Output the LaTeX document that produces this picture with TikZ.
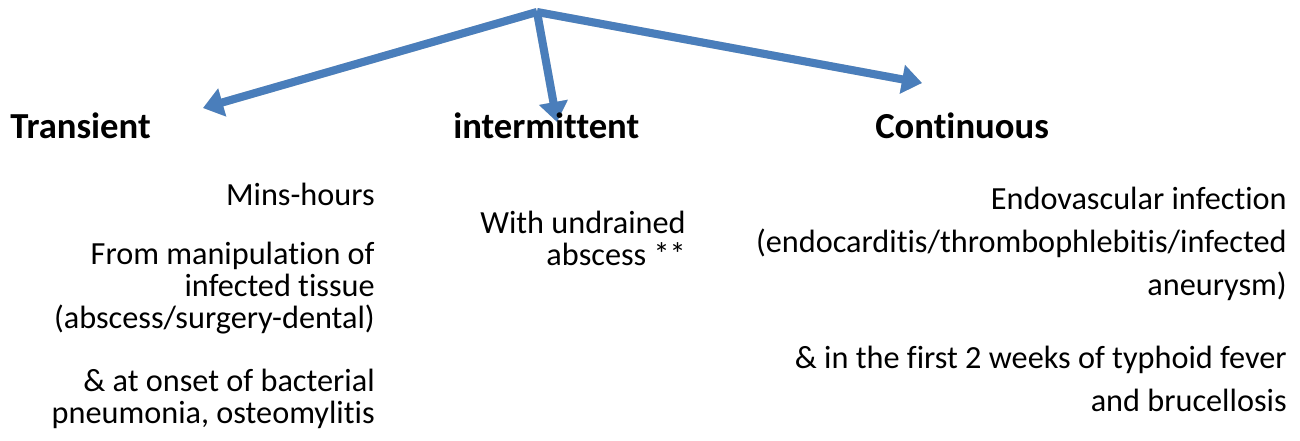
\documentclass[tikz,border=0pt]{standalone}
\usepackage{fontspec}
\setmainfont{Carlito}[RawFeature=-liga]
\usepackage{xcolor}
\usetikzlibrary{arrows.meta,positioning}

\definecolor{flowblue}{RGB}{74,126,187}
\tikzset{
  flow/.style={line width=6pt, flowblue, -{Triangle[length=15pt,width=21pt]}},
  flowshade/.style={line width=6pt, black!18, -{Triangle[length=15pt,width=21pt]}, shift={(2,3)}},
  head/.style={font=\fontsize{27.5}{33}\selectfont\bfseries, inner sep=0pt, anchor=base west},
  body/.style={font=\fontsize{24.2}{24}\selectfont, inner sep=0pt, align=right, anchor=base east},
  bodywide/.style={body, font=\fontsize{24.2}{32.25}\selectfont}
}

\begin{document}
\begin{tikzpicture}[x=0.75pt, y=-0.75pt]
    \useasboundingbox (0,0) rectangle (1300,441);

    % Branch points
    \coordinate (top) at (537,12);
    \coordinate (transTip) at (203,108);
    \coordinate (interTip) at (557,122);
    \coordinate (contTip) at (922,83);

    % Shadows of the arrows
    \draw[flowshade] (top) -- (transTip);
    \draw[flowshade] (top) -- (interTip);
    \draw[flowshade] (top) -- (contTip);

    % Arrows
    \draw[flow] (top) -- (transTip);
    \draw[flow] (top) -- (interTip);
    \draw[flow] (top) -- (contTip);

    % Headings
    \node[head] (trans) at (10,139) {Transient};
    \node[head] (inter) at (453,139) {intermittent};
    \node[head] (cont) at (875,139) {Continuous};

    % Transient
    \node[body] (transA) at (375,206) {Mins-hours};
    \node[body] (transB) at (375,329) {From manipulation of\\infected tissue\\(abscess/surgery-dental)};
    \node[body] (transC) at (375,424) {\& at onset of bacterial\\pneumonia, osteomylitis};

    % Intermittent
    \node[body] (interA) at (686,266) {With undrained\\abscess **};

    % Continuous
    \node[bodywide] (contA) at (1287,296) {Endovascular infection\\(endocarditis/thrombophlebitis/infected\\aneurysm)};
    \node[bodywide] (contB) at (1287,412) {\& in the first 2 weeks of typhoid fever\\and brucellosis\ };
\end{tikzpicture}
\end{document}
